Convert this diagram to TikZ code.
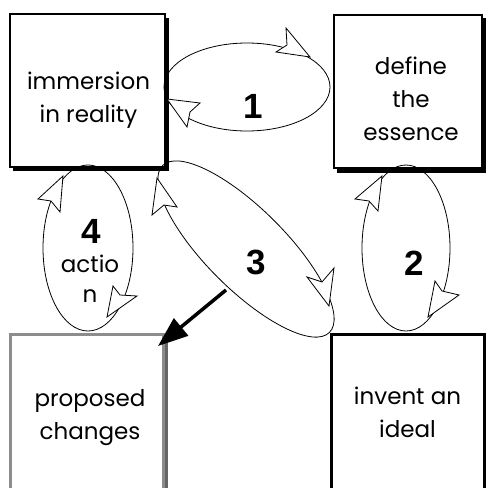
\documentclass[tikz,border=0pt]{standalone}
\usepackage{fontspec}
\setmainfont{Poppins}
\newfontfamily\numfont{Liberation Sans}
\usetikzlibrary{arrows.meta}
\begin{document}
\begin{tikzpicture}[x=1pt,y=-1pt,
  lbl/.style={font=\fontsize{23}{33}\selectfont, align=center, inner sep=0pt, anchor=base},
  num/.style={font=\numfont\bfseries\fontsize{35}{35}\selectfont, inner sep=0pt},
  loop/.style={line width=0.8pt},
  head/.style={fill=white, draw=black, line width=0.8pt, line join=miter},
  boxnode/.style={draw, fill=white, inner sep=0pt}]
\useasboundingbox (0,0) rectangle (486,488);
% shadows
\fill[black] (13,18) rectangle (168.5,171);
\fill[black] (337,18) rectangle (488,172.5);
\fill[black!60] (163,337) rectangle (168,492);
% boxes
\node[boxnode, line width=2.5pt, minimum width=155pt, minimum height=153pt] (b1) at (87.5,90.5) {};
\node[boxnode, line width=2pt, minimum width=148.5pt, minimum height=153.5pt] (b2) at (407.75,91.25) {};
\node[boxnode, draw=black!45, line width=3pt, minimum width=153.5pt, minimum height=158pt] (b3) at (86.75,413) {};
\node[boxnode, line width=3pt, minimum width=152.5pt, minimum height=157.5pt] (b4) at (407.75,413.25) {};
% texts (base anchor = baseline of the last line)
\node[lbl] (t1) at (88.5,122) {immersion\\in reality};
\node[lbl] (t2) at (411,140) {define\\the\\essence};
\node[lbl] (t3) at (90,439) {proposed\\changes};
\node[lbl] (t4) at (407.5,437) {invent an\\ideal};
\node[lbl, font=\fontsize{23}{30}\selectfont] (t5) at (90,302) {actio\\n};
% loops
\draw[loop] (247,87) ellipse [x radius=83pt, y radius=44pt];
\draw[loop] (406,248) ellipse [x radius=44pt, y radius=83pt];
\draw[loop] (88,248) ellipse [x radius=45pt, y radius=83pt];
\draw[loop, rotate around={-45:(246,249)}] (246,249) ellipse [x radius=118pt, y radius=40pt];
% numbers
\node[num] (n1) at (253,106) {1};
\node[num] (n2) at (414,263) {2};
\node[num] (n3) at (256,262) {3};
\node[num] (n4) at (91,231) {4};
% open arrowheads
\draw[head] (310,57) -- (286,28) -- (287,45) -- (276,52) -- cycle;
\draw[head] (167,99) -- (200,103) -- (190,112) -- (187,127) -- cycle;
\draw[head] (382,176) -- (355,199) -- (369,201) -- (378,211) -- cycle;
\draw[head] (428,317) -- (435,281) -- (442,291) -- (459,295) -- cycle;
\draw[head] (63,176) -- (38,199) -- (51,201) -- (60,212) -- cycle;
\draw[head] (107,317) -- (113,286) -- (120,295) -- (137,296) -- cycle;
\draw[head] (157,178) -- (152,215) -- (164,205) -- (177,207) -- cycle;
\draw[head] (329,306) -- (307,277) -- (322,282) -- (334,268) -- cycle;
% thick arrow
\coordinate (s3) at (226,290);
\coordinate (e3) at (158,346);
\draw[line width=3.5pt, -{Triangle[length=30pt,width=22pt]}] (s3) -- (e3);
\end{tikzpicture}
\end{document}
